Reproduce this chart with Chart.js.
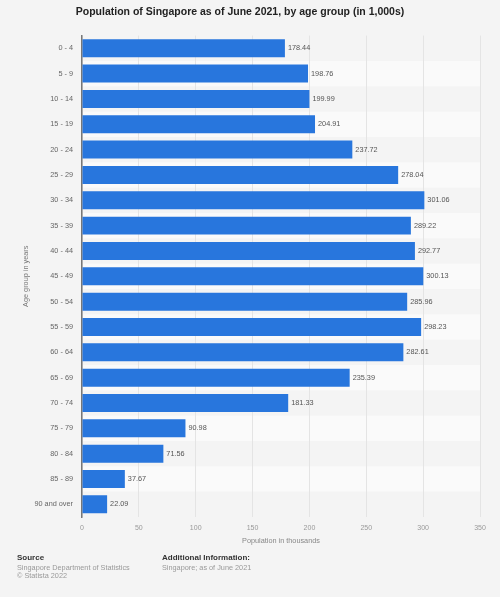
<!DOCTYPE html>
<html>
<head>
<meta charset="utf-8">
<script src="https://cdn.jsdelivr.net/npm/chart.js@4"></script>
<style>
  html, body { margin: 0; padding: 0; background: #f4f4f4; }
  #wrap { position: relative; width: 500px; height: 597px; }
  #chart { position: absolute; left: 0; top: 0; }
  .foot { position: absolute; font-family: "Liberation Sans", Arial, sans-serif; font-size: 7.3px; line-height: 8.5px; color: #999; }
  .foot b { color: #333; font-size: 8px; display: block; margin-bottom: 1px; }
</style>
</head>
<body>
<div id="wrap">
  <canvas id="chart" width="500" height="597"></canvas>
  <div class="foot" style="left:17px; top:554px;"><b>Source</b>Singapore Department of Statistics<br>© Statista 2022</div>
  <div class="foot" style="left:162px; top:554px;"><b>Additional Information:</b>Singapore; as of June 2021</div>
</div>
<script>
const ageGroups = ['0 - 4', '5 - 9', '10 - 14', '15 - 19', '20 - 24', '25 - 29', '30 - 34', '35 - 39',
  '40 - 44', '45 - 49', '50 - 54', '55 - 59', '60 - 64', '65 - 69', '70 - 74', '75 - 79',
  '80 - 84', '85 - 89', '90 and over'];
const population = [178.44, 198.76, 199.99, 204.91, 237.72, 278.04, 301.06, 289.22, 292.77,
  300.13, 285.96, 298.23, 282.61, 235.39, 181.33, 90.98, 71.56, 37.67, 22.09];
const xTicks = [0, 50, 100, 150, 200, 250, 300, 350];

const font = "'Liberation Sans', Arial, sans-serif";

// alternating lighter rows behind the bars
const rowBands = {
  id: 'rowBands',
  beforeDraw(chart) {
    const { ctx, chartArea } = chart;
    const y = chart.scales.y;
    const band = (y.bottom - y.top) / ageGroups.length;
    ctx.save();
    ctx.fillStyle = '#fafafa';
    ageGroups.forEach((g, i) => {
      if (i % 2 === 1) {
        const cy = y.getPixelForValue(i);
        ctx.fillRect(chartArea.left, cy - band / 2, chartArea.right - chartArea.left, band);
      }
    });
    ctx.restore();
  }
};

// value labels at the end of each bar
const barLabels = {
  id: 'barLabels',
  afterDatasetsDraw(chart) {
    const { ctx } = chart;
    const meta = chart.getDatasetMeta(0);
    ctx.save();
    ctx.font = '7.3px ' + font;
    ctx.fillStyle = '#555';
    ctx.textAlign = 'left';
    ctx.textBaseline = 'middle';
    meta.data.forEach((bar, i) => {
      ctx.fillText(population[i].toFixed(2), bar.x + 3, bar.y);
    });
    ctx.restore();
  }
};

new Chart(document.getElementById('chart'), {
  type: 'bar',
  data: {
    labels: ageGroups,
    datasets: [{
      data: population,
      backgroundColor: '#2876dd',
      borderWidth: 0,
      barPercentage: 0.71,
      categoryPercentage: 1
    }]
  },
  options: {
    indexAxis: 'y',
    responsive: false,
    animation: false,
    layout: { padding: { left: 0, right: 20, top: 0, bottom: 0 } },
    plugins: {
      legend: { display: false },
      tooltip: { enabled: false },
      title: {
        display: true,
        text: 'Population of Singapore as of June 2021, by age group (in 1,000s)',
        color: '#222',
        font: { family: font, size: 10.5, weight: 'bold' },
        padding: { top: 6, bottom: 17 }
      }
    },
    scales: {
      x: {
        min: 0,
        max: 350,
        afterBuildTicks(scale) { scale.ticks = xTicks.map(v => ({ value: v })); },
        afterFit(scale) { scale.height = 80; },
        grid: { color: '#e4e4e4', drawTicks: false },
        border: { display: false },
        ticks: { color: '#999', padding: 7, font: { family: font, size: 7 } },
        title: {
          display: true,
          text: 'Population in thousands',
          color: '#888',
          font: { family: font, size: 7.3 },
          padding: { top: 0, bottom: 52 }
        }
      },
      y: {
        afterFit(scale) { scale.width = 82; },
        grid: { display: false, drawTicks: false },
        border: { display: true, color: '#777', width: 1.5 },
        ticks: { color: '#666', padding: 9, font: { family: font, size: 7.3 } },
        title: {
          display: true,
          text: 'Age group in years',
          color: '#777',
          font: { family: font, size: 7.3 },
          padding: { top: 22, bottom: 0 }
        }
      }
    }
  },
  plugins: [rowBands, barLabels]
});
</script>
</body>
</html>
